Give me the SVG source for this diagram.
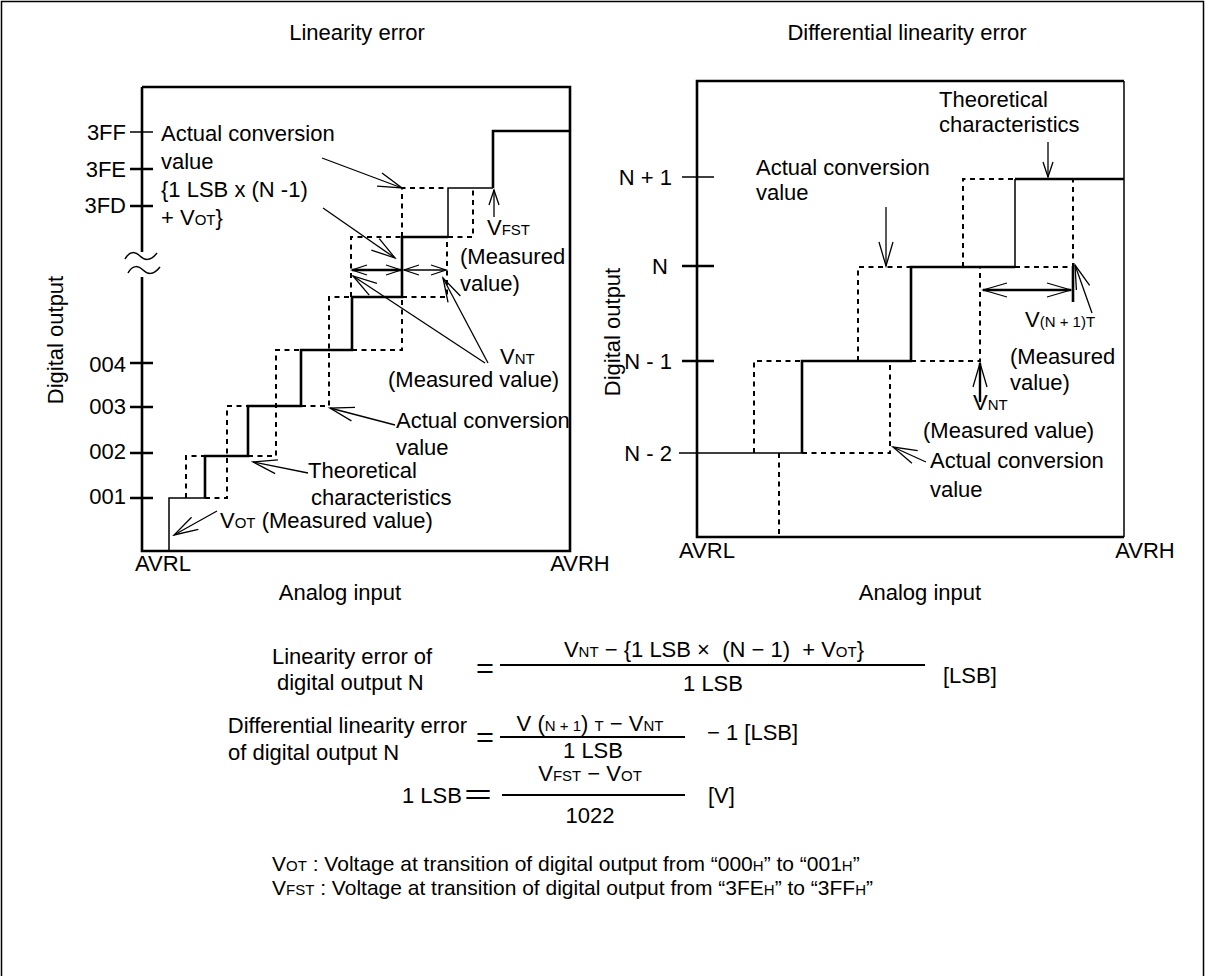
<svg xmlns="http://www.w3.org/2000/svg" width="1205" height="976" viewBox="0 0 1205 976">
<style>
text{font-family:"Liberation Sans",Arial,sans-serif;font-size:22px;fill:#000}
.s{font-size:15px}
.n{font-size:21px}
.eq{font-size:28px}
.thk{fill:none;stroke:#000;stroke-width:2.6}
.thn{fill:none;stroke:#000;stroke-width:1.5}
.ds{fill:none;stroke:#000;stroke-width:2;stroke-dasharray:5 4.5}
.ar{fill:none;stroke:#000;stroke-width:1.3}
.ab{fill:none;stroke:#000;stroke-width:2.4}
.fl{fill:none;stroke:#000;stroke-width:2}
</style>
<defs>
<marker id="h" viewBox="-26 -10 28 20" refX="0" refY="0" markerWidth="28" markerHeight="20" markerUnits="userSpaceOnUse" orient="auto-start-reverse">
<path d="M-24,-7 L0,0 L-24,7" fill="none" stroke="#000" stroke-width="1.3"/>
</marker>
<marker id="hs" viewBox="-18 -8 20 16" refX="0" refY="0" markerWidth="20" markerHeight="16" markerUnits="userSpaceOnUse" orient="auto-start-reverse">
<path d="M-15,-5 L0,0 L-15,5" fill="none" stroke="#000" stroke-width="1.3"/>
</marker>
</defs>
<path d="M1.5,976 V1.5 H1203.5 V976" fill="none" stroke="#000" stroke-width="1.5"/>

<g id="linearity-chart">
<text x="357" y="40" text-anchor="middle">Linearity error</text>
<path class="thk" d="M142,87 V252 M142,277 V551 H570 V87 H142"/>
<path class="thn" d="M125,259 C130,250 136,252 140,256 S150,262 157,253 M128,273 C133,264 139,266 143,270 S153,276 160,267"/>
<path class="thn" d="M130,132 H153"/>
<path class="thk" d="M130,169 H153 M130,206 H153 M130,363 H153 M130,407 H153 M130,453 H153 M130,498 H153"/>
<text x="126" y="140" text-anchor="end">3FF</text>
<text x="126" y="177" text-anchor="end">3FE</text>
<text x="126" y="213" text-anchor="end">3FD</text>
<text x="126" y="372" text-anchor="end">004</text>
<text x="126" y="414" text-anchor="end">003</text>
<text x="126" y="459" text-anchor="end">002</text>
<text x="126" y="504" text-anchor="end">001</text>
<text transform="translate(63,340) rotate(-90)" text-anchor="middle">Digital output</text>
<text x="163" y="571" text-anchor="middle">AVRL</text>
<text x="580" y="571" text-anchor="middle">AVRH</text>
<text x="340" y="600" text-anchor="middle">Analog input</text>
<path class="thn" d="M169,551 V498 H205 M448,237 V188 H493"/>
<path class="thk" d="M205,498 V456 H248 V406 H301 V350 H352 V297 H402 V237 H448 M493,188 V131 H570"/>
<path class="ds" d="M186,498 V456 H205 M205,498 H227 V406 H248 M248,456 H276 V350 H301 M301,406 H329 V297 H352 M352,350 H402 V297 M351,297 V237 H402 M402,297 H447 V237 M402,237 V188 H448 M448,237 H473 V188"/>
<text x="161" y="141">Actual conversion</text>
<text x="161" y="169">value</text>
<text x="161" y="197">{1 LSB x (N -1)</text>
<text x="161" y="225">+ V<tspan class="s">OT</tspan>}</text>
<text x="487" y="235">V<tspan class="s">FST</tspan></text>
<text x="460" y="264">(Measured</text>
<text x="460" y="291">value)</text>
<text x="500" y="364">V<tspan class="s">NT</tspan></text>
<text x="388" y="387">(Measured value)</text>
<text x="396" y="428">Actual conversion</text>
<text x="396" y="455">value</text>
<text x="308" y="478">Theoretical</text>
<text x="311" y="505">characteristics</text>
<text x="220" y="528">V<tspan class="s">OT</tspan> (Measured value)</text>
</g>

<g id="differential-chart">
<text x="907" y="40" text-anchor="middle">Differential linearity error</text>
<path class="thk" d="M1124,537 H697 V81 H1124"/>
<path class="thn" d="M1124,81 V537"/>
<path class="thn" d="M682,177 H714 M679,453 H802"/>
<path class="thk" d="M682,266 H714 M682,361 H714"/>
<text x="672" y="185" text-anchor="end">N + 1</text>
<text x="668" y="274" text-anchor="end">N</text>
<text x="672" y="369" text-anchor="end">N - 1</text>
<text x="672" y="461" text-anchor="end">N - 2</text>
<text transform="translate(620,332) rotate(-90)" text-anchor="middle">Digital output</text>
<text x="707" y="558" text-anchor="middle">AVRL</text>
<text x="1145" y="558" text-anchor="middle">AVRH</text>
<text x="920" y="600" text-anchor="middle">Analog input</text>
<path class="thk" d="M802,453 V361 H911 V267 H1015 M1015,179 H1124"/>
<path class="thn" d="M1015,267 V179"/>
<path class="ds" d="M754,453 V361 H802 M802,453 H890 V361 M858,361 V267 H911 M911,361 H980 V267 M963,267 V179 H1015 M1015,267 H1073 V179 M779,453 V537"/>
<path class="thk" d="M1073,266 V302"/>
<text x="756" y="175">Actual conversion</text>
<text x="756" y="200">value</text>
<text x="939" y="107">Theoretical</text>
<text x="939" y="132">characteristics</text>
<text x="1025" y="327">V<tspan class="s">(N + 1)T</tspan></text>
<text x="1010" y="364">(Measured</text>
<text x="1010" y="390">value)</text>
<text x="973" y="410">V<tspan class="s">NT</tspan></text>
<text x="923" y="438">(Measured value)</text>
<text x="930" y="468">Actual conversion</text>
<text x="930" y="497">value</text>
</g>

<g id="connectors">
<path class="ar" marker-end="url(#h)" d="M322,158 L402,188"/>
<path class="ar" marker-end="url(#h)" d="M323,208 L395,258"/>
<path class="ar" marker-end="url(#hs)" d="M494,217 V190"/>
<path class="ab" marker-start="url(#hs)" marker-end="url(#hs)" d="M352,270 H401"/>
<path class="ar" marker-start="url(#hs)" marker-end="url(#hs)" d="M404,270 H446"/>
<path class="ar" marker-end="url(#h)" d="M485,363 L353,276"/>
<path class="ar" marker-end="url(#h)" d="M488,363 L443,278"/>
<path class="ar" marker-end="url(#h)" d="M395,425 L330,408"/>
<path class="ar" marker-end="url(#h)" d="M308,473 L253,462"/>
<path class="ar" marker-end="url(#h)" d="M217,511 L174,535"/>
<path class="ar" marker-end="url(#h)" d="M886,207 V266"/>
<path class="ar" marker-end="url(#hs)" d="M1048,142 V177"/>
<path class="ab" marker-start="url(#h)" marker-end="url(#h)" d="M983,290 H1071"/>
<path class="ar" marker-end="url(#h)" d="M1092,313 L1075,265"/>
<path class="ab" marker-end="url(#h)" d="M980,402 V363"/>
<path class="ar" marker-end="url(#h)" d="M926,462 L893,447"/>
</g>

<g id="formulas">
<text x="272" y="664">Linearity error of</text>
<text x="277" y="690">digital output N</text>
<text class="eq" x="476" y="678" textLength="18" lengthAdjust="spacingAndGlyphs">=</text>
<path class="fl" d="M500,665 H925"/>
<text x="714" y="657" text-anchor="middle" xml:space="preserve">V<tspan class="s">NT</tspan> − {1 LSB ×  (N − 1)  + V<tspan class="s">OT</tspan>}</text>
<text x="713" y="691" text-anchor="middle">1 LSB</text>
<text x="943" y="683">[LSB]</text>

<text x="467" y="733" text-anchor="end">Differential linearity error</text>
<text x="228" y="760">of digital output N</text>
<text class="eq" x="476" y="747" textLength="18" lengthAdjust="spacingAndGlyphs">=</text>
<path class="fl" d="M500,737 H685"/>
<text x="590" y="731" text-anchor="middle" xml:space="preserve">V (<tspan class="s">N + 1</tspan>) <tspan class="s">T</tspan> − V<tspan class="s">NT</tspan></text>
<text x="593" y="758" text-anchor="middle">1 LSB</text>
<text x="707" y="740">− 1 [LSB]</text>

<text x="402" y="803">1 LSB</text>
<text class="eq" x="464" y="804" textLength="28" lengthAdjust="spacingAndGlyphs">=</text>
<path class="fl" d="M502,795 H685"/>
<text x="590" y="781" text-anchor="middle">V<tspan class="s">FST</tspan> − V<tspan class="s">OT</tspan></text>
<text x="590" y="823" text-anchor="middle">1022</text>
<text x="708" y="803">[V]</text>

<text class="n" x="272" y="871">V<tspan class="s">OT</tspan> : Voltage at transition of digital output from “000<tspan class="s">H</tspan>” to “001<tspan class="s">H</tspan>”</text>
<text class="n" x="272" y="895">V<tspan class="s">FST</tspan> : Voltage at transition of digital output from “3FE<tspan class="s">H</tspan>” to “3FF<tspan class="s">H</tspan>”</text>
</g>
</svg>
